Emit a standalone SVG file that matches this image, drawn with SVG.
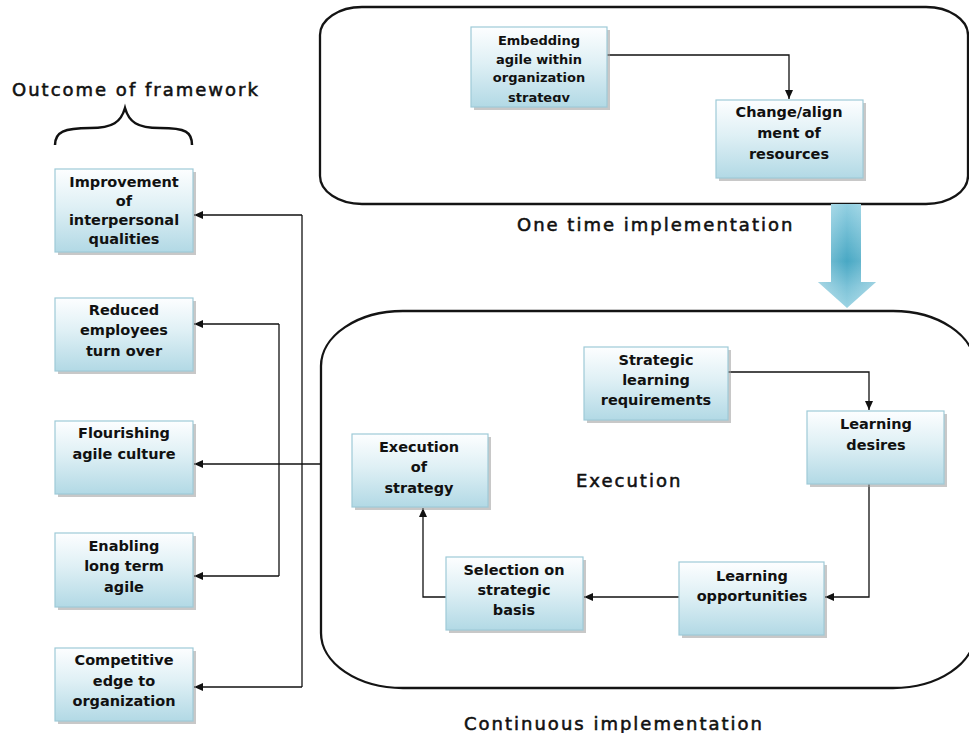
<svg xmlns="http://www.w3.org/2000/svg" width="969" height="733" viewBox="0 0 969 733">
<style>
.bg{fill:#ffffff}
.frame{fill:none;stroke:#141414;stroke-width:2.3}
.box{fill:url(#ng);stroke:#9ecad7;stroke-width:1.2}
.sh{fill:#9a9a9a;opacity:0.55}
.t{font-family:"DejaVu Sans",Verdana,sans-serif;font-weight:bold;font-size:14.5px;fill:#111;text-anchor:middle}
.ts{font-size:13px}
.lbl{font-family:"DejaVu Sans",Verdana,sans-serif;font-size:18px;fill:#111;stroke:#111;stroke-width:0.55;letter-spacing:2px}
.c{fill:none;stroke:#111;stroke-width:1.3}
</style>
<defs>
<linearGradient id="ng" x1="0" y1="0" x2="0" y2="1">
<stop offset="0" stop-color="#fdfeff"/>
<stop offset="0.45" stop-color="#dff0f5"/>
<stop offset="1" stop-color="#b2d9e5"/>
</linearGradient>
<linearGradient id="ag" x1="0" y1="0" x2="0" y2="1">
<stop offset="0" stop-color="#93d0e2"/>
<stop offset="0.55" stop-color="#48a8c4"/>
<stop offset="0.8" stop-color="#7dc3d8"/>
<stop offset="1" stop-color="#9ad3e3"/>
</linearGradient>
<linearGradient id="ah" x1="0" y1="0" x2="1" y2="0">
<stop offset="0" stop-color="#ffffff" stop-opacity="0.35"/>
<stop offset="0.5" stop-color="#ffffff" stop-opacity="0"/>
<stop offset="1" stop-color="#ffffff" stop-opacity="0.3"/>
</linearGradient>
<marker id="arr" markerWidth="9" markerHeight="8" refX="9" refY="4" orient="auto" markerUnits="userSpaceOnUse">
<path d="M0,0 L9,4 L0,8 Z" fill="#111"/>
</marker>
<clipPath id="clipEmb"><rect x="471" y="27" width="136" height="75"/></clipPath>
</defs>
<rect class="bg" x="0" y="0" width="969" height="733"/>

<g id="frames">
<rect id="one-time-frame" class="frame" x="320" y="7" width="648" height="197" rx="42" ry="28"/>
<rect id="continuous-frame" class="frame" x="321" y="311" width="654" height="377" rx="82" ry="55"/>
</g>

<g id="big-arrow">
<path d="M831,204 L861,204 L861,282 L876,282 L847,308 L818,282 L831,282 Z" fill="url(#ag)"/>
<path d="M831,204 L861,204 L861,282 L876,282 L847,308 L818,282 L831,282 Z" fill="url(#ah)"/>
</g>

<g id="labels">
<text class="lbl" x="12" y="96">Outcome of framework</text>
<path d="M55,145 C55,132 64,128 90,128 C113,128 121,122 125,108 C129,122 137,128 160,128 C186,128 192,132 192,145" fill="none" stroke="#111" stroke-width="2.5"/>
<text class="lbl" x="517" y="231">One time implementation</text>
<text class="lbl" x="576" y="487" letter-spacing="1.8">Execution</text>
<text class="lbl" x="464" y="730">Continuous implementation</text>
</g>

<g id="connectors">
<path class="c" d="M607,55 H789 V99" marker-end="url(#arr)"/>
<path class="c" d="M727,372 H869 V410" marker-end="url(#arr)"/>
<path class="c" d="M869,484 V597 H825" marker-end="url(#arr)"/>
<path class="c" d="M679,597 H584" marker-end="url(#arr)"/>
<path class="c" d="M446,597 H423 V508" marker-end="url(#arr)"/>
<path class="c" d="M302,215 H194" marker-end="url(#arr)"/>
<path class="c" d="M302,215 V687"/>
<path class="c" d="M302,687 H194" marker-end="url(#arr)"/>
<path class="c" d="M279,324 H194" marker-end="url(#arr)"/>
<path class="c" d="M279,324 V576"/>
<path class="c" d="M279,576 H194" marker-end="url(#arr)"/>
<path class="c" d="M321,464 H194" marker-end="url(#arr)"/>
</g>

<g id="n-embedding">
<rect class="sh" x="474" y="30" width="136" height="80"/>
<rect class="box" x="471" y="27" width="136" height="80"/>
<g clip-path="url(#clipEmb)">
<text class="t ts" x="539" y="45">Embedding</text>
<text class="t ts" x="539" y="64">agile within</text>
<text class="t ts" x="539" y="82">organization</text>
<text class="t ts" x="539" y="102">strategy</text>
</g>
</g>

<g id="n-change">
<rect class="sh" x="719" y="103" width="147" height="78"/>
<rect class="box" x="716" y="100" width="147" height="78"/>
<text class="t" x="789" y="117">Change/align</text>
<text class="t" x="789" y="138">ment of</text>
<text class="t" x="789" y="159">resources</text>
</g>

<g id="n-strategic">
<rect class="sh" x="587" y="350" width="144" height="73"/>
<rect class="box" x="584" y="347" width="144" height="73"/>
<text class="t" x="656" y="365">Strategic</text>
<text class="t" x="656" y="385">learning</text>
<text class="t" x="656" y="405">requirements</text>
</g>

<g id="n-desires">
<rect class="sh" x="810" y="414" width="137" height="73"/>
<rect class="box" x="807" y="411" width="137" height="73"/>
<text class="t" x="876" y="429">Learning</text>
<text class="t" x="876" y="450">desires</text>
</g>

<g id="n-execution">
<rect class="sh" x="355" y="437" width="136" height="73"/>
<rect class="box" x="352" y="434" width="136" height="73"/>
<text class="t" x="419" y="452">Execution</text>
<text class="t" x="419" y="472">of</text>
<text class="t" x="419" y="493">strategy</text>
</g>

<g id="n-selection">
<rect class="sh" x="449" y="560" width="137" height="73"/>
<rect class="box" x="446" y="557" width="137" height="73"/>
<text class="t" x="514" y="575">Selection on</text>
<text class="t" x="514" y="595">strategic</text>
<text class="t" x="514" y="615">basis</text>
</g>

<g id="n-opportunities">
<rect class="sh" x="682" y="565" width="145" height="73"/>
<rect class="box" x="679" y="562" width="145" height="73"/>
<text class="t" x="752" y="581">Learning</text>
<text class="t" x="752" y="601">opportunities</text>
</g>

<g id="n-improvement">
<rect class="sh" x="58" y="172" width="138" height="83"/>
<rect class="box" x="55" y="169" width="138" height="83"/>
<text class="t" x="124" y="187">Improvement</text>
<text class="t" x="124" y="206">of</text>
<text class="t" x="124" y="225">interpersonal</text>
<text class="t" x="124" y="244">qualities</text>
</g>

<g id="n-reduced">
<rect class="sh" x="58" y="301" width="138" height="73"/>
<rect class="box" x="55" y="298" width="138" height="73"/>
<text class="t" x="124" y="315">Reduced</text>
<text class="t" x="124" y="335">employees</text>
<text class="t" x="124" y="356">turn over</text>
</g>

<g id="n-flourishing">
<rect class="sh" x="58" y="424" width="138" height="73"/>
<rect class="box" x="55" y="421" width="138" height="73"/>
<text class="t" x="124" y="438">Flourishing</text>
<text class="t" x="124" y="459">agile culture</text>
</g>

<g id="n-enabling">
<rect class="sh" x="58" y="536" width="138" height="74"/>
<rect class="box" x="55" y="533" width="138" height="74"/>
<text class="t" x="124" y="551">Enabling</text>
<text class="t" x="124" y="571">long term</text>
<text class="t" x="124" y="592">agile</text>
</g>

<g id="n-competitive">
<rect class="sh" x="58" y="651" width="138" height="73"/>
<rect class="box" x="55" y="648" width="138" height="73"/>
<text class="t" x="124" y="665">Competitive</text>
<text class="t" x="124" y="686">edge to</text>
<text class="t" x="124" y="706">organization</text>
</g>
</svg>
